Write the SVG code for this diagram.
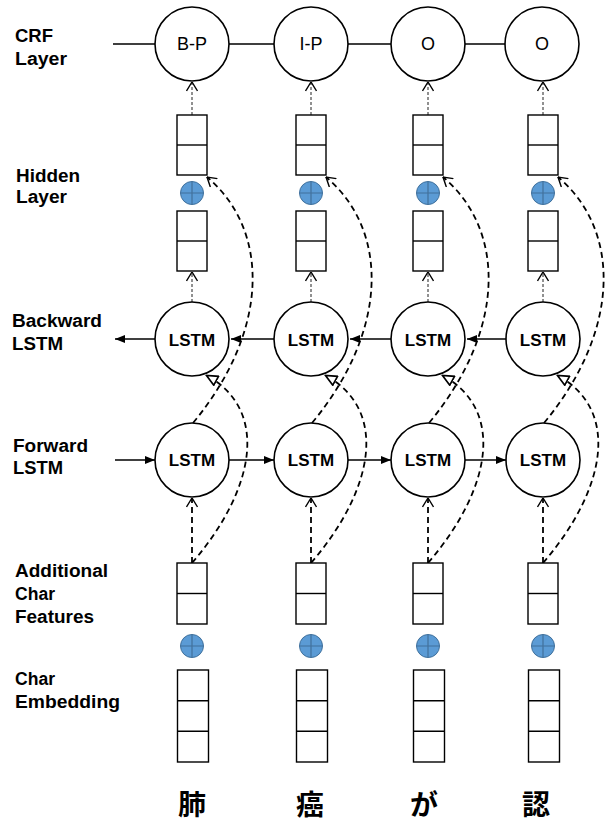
<svg xmlns="http://www.w3.org/2000/svg" width="611" height="823" viewBox="0 0 611 823">
<style>
.bg{fill:#ffffff}
.nd{fill:#ffffff;stroke:#000;stroke-width:1.6}
.bx{fill:#ffffff;stroke:#000;stroke-width:1.4}
.dv{stroke:#000;stroke-width:1.4;fill:none}
.pl{fill:#5B9BD5;stroke:#41719C;stroke-width:1}
.plx{stroke:#41719C;stroke-width:1.2;fill:none}
.lbl{font-family:"Liberation Sans",Arial,sans-serif;font-weight:bold;font-size:17.5px;fill:#000}
.lstm{font-family:"Liberation Sans",Arial,sans-serif;font-weight:bold;font-size:17px;fill:#000;text-anchor:middle}
.crf{font-family:"Liberation Sans",Arial,sans-serif;font-size:18px;fill:#000;text-anchor:middle}
.ch{font-family:"Noto Sans CJK JP","Noto Sans CJK SC",sans-serif;font-weight:bold;font-size:28px;fill:#000;text-anchor:middle}
.sl{stroke:#000;stroke-width:1.4;fill:none}
.dt{stroke:#222;stroke-width:1;stroke-dasharray:3 2;fill:none}
.dk{stroke:#000;stroke-width:1.8;stroke-dasharray:6 4;fill:none}
</style>
<defs>
<marker id="vh" viewBox="0 0 10 12" refX="9.5" refY="6" markerWidth="10" markerHeight="12" markerUnits="userSpaceOnUse" orient="auto">
<path d="M0.5,0.5 L9.5,6 L0.5,11.5" fill="none" stroke="#000" stroke-width="1.4" stroke-dasharray="none"/>
</marker>
<marker id="th" viewBox="0 0 13 12" refX="12" refY="6" markerWidth="13" markerHeight="12" markerUnits="userSpaceOnUse" orient="auto">
<path d="M1,1 L12,6 L1,11 Z" fill="#fff" stroke="#000" stroke-width="1.7" stroke-dasharray="none"/>
</marker>
<marker id="fh" viewBox="0 0 10 8" refX="10" refY="4" markerWidth="10" markerHeight="8" markerUnits="userSpaceOnUse" orient="auto">
<path d="M0,0 L10,4 L0,8 Z" fill="#000" stroke="none"/>
</marker>
</defs>
<rect class="bg" x="0" y="0" width="611" height="823"/>

<g id="labels">
<text class="lbl" x="15" y="42" textLength="38" lengthAdjust="spacingAndGlyphs">CRF</text>
<text class="lbl" x="15" y="65" textLength="52" lengthAdjust="spacingAndGlyphs">Layer</text>
<text class="lbl" x="16" y="181.5" textLength="64" lengthAdjust="spacingAndGlyphs">Hidden</text>
<text class="lbl" x="16" y="203" textLength="51" lengthAdjust="spacingAndGlyphs">Layer</text>
<text class="lbl" x="12" y="326.5" textLength="90" lengthAdjust="spacingAndGlyphs">Backward</text>
<text class="lbl" x="12" y="350" textLength="51" lengthAdjust="spacingAndGlyphs">LSTM</text>
<text class="lbl" x="13" y="451.5" textLength="75" lengthAdjust="spacingAndGlyphs">Forward</text>
<text class="lbl" x="13" y="473.5" textLength="50" lengthAdjust="spacingAndGlyphs">LSTM</text>
<text class="lbl" x="15" y="577" textLength="93" lengthAdjust="spacingAndGlyphs">Additional</text>
<text class="lbl" x="15" y="600" textLength="40" lengthAdjust="spacingAndGlyphs">Char</text>
<text class="lbl" x="15" y="623" textLength="79" lengthAdjust="spacingAndGlyphs">Features</text>
<text class="lbl" x="15" y="685" textLength="40" lengthAdjust="spacingAndGlyphs">Char</text>
<text class="lbl" x="15" y="708" textLength="105" lengthAdjust="spacingAndGlyphs">Embedding</text>
</g>

<g id="connectors">
<path class="sl" d="M113,44 H155 M229,44 H274 M348,44 H391 M465,44 H506"/>
<path class="sl" marker-end="url(#fh)" d="M115,460 H155"/>
<path class="sl" marker-end="url(#fh)" d="M229,460 H274"/>
<path class="sl" marker-end="url(#fh)" d="M348,460 H391"/>
<path class="sl" marker-end="url(#fh)" d="M465,460 H506"/>
<path class="sl" marker-end="url(#fh)" d="M155,339 H115"/>
<path class="sl" marker-end="url(#fh)" d="M274,339 H231"/>
<path class="sl" marker-end="url(#fh)" d="M391,339 H350"/>
<path class="sl" marker-end="url(#fh)" d="M506,339 H467"/>
<path class="dt" marker-end="url(#vh)" d="M192,115 V82"/>
<path class="dt" marker-end="url(#vh)" d="M311,115 V82"/>
<path class="dt" marker-end="url(#vh)" d="M428,115 V82"/>
<path class="dt" marker-end="url(#vh)" d="M543,115 V82"/>
<path class="dt" marker-end="url(#vh)" d="M192,302 V272"/>
<path class="dt" marker-end="url(#vh)" d="M311,302 V272"/>
<path class="dt" marker-end="url(#vh)" d="M428,302 V272"/>
<path class="dt" marker-end="url(#vh)" d="M543,302 V272"/>
<path class="dk" marker-end="url(#vh)" d="M192,563 V498"/>
<path class="dk" marker-end="url(#vh)" d="M311,563 V498"/>
<path class="dk" marker-end="url(#vh)" d="M428,563 V498"/>
<path class="dk" marker-end="url(#vh)" d="M543,563 V498"/>
<path class="dk" marker-end="url(#th)" d="M192,563 C255,490 270,410 206.5,375.5"/>
<path class="dk" marker-end="url(#th)" d="M311,563 C374,490 389,410 325.5,375.5"/>
<path class="dk" marker-end="url(#th)" d="M428,563 C491,490 506,410 442.5,375.5"/>
<path class="dk" marker-end="url(#th)" d="M543,563 C606,490 621,410 557.5,375.5"/>
<path class="dk" marker-end="url(#vh)" d="M193,423 C270,330 270,230 207,177"/>
<path class="dk" marker-end="url(#vh)" d="M312,423 C389,330 389,230 326,177"/>
<path class="dk" marker-end="url(#vh)" d="M429,423 C506,330 506,230 443,177"/>
<path class="dk" marker-end="url(#vh)" d="M544,423 C621,330 621,230 558,177"/>
</g>

<g id="crf1"><circle class="nd" cx="192" cy="44" r="37"/><text class="crf" x="192" y="50">B-P</text></g>
<g id="hid1a"><rect class="bx" x="177" y="115" width="30" height="60"/><path class="dv" d="M177,145 H207"/></g>
<g id="plusH1"><circle class="pl" cx="192" cy="193" r="11.5"/><path class="plx" d="M180.5,193 H203.5 M192,181.5 V204.5"/></g>
<g id="hid1b"><rect class="bx" x="177" y="211" width="30" height="60"/><path class="dv" d="M177,241 H207"/></g>
<g id="bw1"><circle class="nd" cx="192" cy="339" r="37"/><text class="lstm" x="192" y="345.5">LSTM</text></g>
<g id="fw1"><circle class="nd" cx="192" cy="460" r="37"/><text class="lstm" x="192" y="466">LSTM</text></g>
<g id="feat1"><rect class="bx" x="177" y="563" width="30" height="61"/><path class="dv" d="M177,593.5 H207"/></g>
<g id="plusF1"><circle class="pl" cx="192" cy="646" r="11.5"/><path class="plx" d="M180.5,646 H203.5 M192,634.5 V657.5"/></g>
<g id="emb1"><rect class="bx" x="177.5" y="670" width="31" height="92"/><path class="dv" d="M177.5,700.7 H208.5 M177.5,731.3 H208.5"/></g>
<g id="char1"><text class="ch" x="192" y="815">肺</text></g>

<g id="crf2"><circle class="nd" cx="311" cy="44" r="37"/><text class="crf" x="311" y="50">I-P</text></g>
<g id="hid2a"><rect class="bx" x="296" y="115" width="30" height="60"/><path class="dv" d="M296,145 H326"/></g>
<g id="plusH2"><circle class="pl" cx="311" cy="193" r="11.5"/><path class="plx" d="M299.5,193 H322.5 M311,181.5 V204.5"/></g>
<g id="hid2b"><rect class="bx" x="296" y="211" width="30" height="60"/><path class="dv" d="M296,241 H326"/></g>
<g id="bw2"><circle class="nd" cx="311" cy="339" r="37"/><text class="lstm" x="311" y="345.5">LSTM</text></g>
<g id="fw2"><circle class="nd" cx="311" cy="460" r="37"/><text class="lstm" x="311" y="466">LSTM</text></g>
<g id="feat2"><rect class="bx" x="296" y="563" width="30" height="61"/><path class="dv" d="M296,593.5 H326"/></g>
<g id="plusF2"><circle class="pl" cx="311" cy="646" r="11.5"/><path class="plx" d="M299.5,646 H322.5 M311,634.5 V657.5"/></g>
<g id="emb2"><rect class="bx" x="296.5" y="670" width="31" height="92"/><path class="dv" d="M296.5,700.7 H327.5 M296.5,731.3 H327.5"/></g>
<g id="char2"><text class="ch" x="310" y="815">癌</text></g>

<g id="crf3"><circle class="nd" cx="428" cy="44" r="37"/><text class="crf" x="428" y="50">O</text></g>
<g id="hid3a"><rect class="bx" x="413" y="115" width="30" height="60"/><path class="dv" d="M413,145 H443"/></g>
<g id="plusH3"><circle class="pl" cx="428" cy="193" r="11.5"/><path class="plx" d="M416.5,193 H439.5 M428,181.5 V204.5"/></g>
<g id="hid3b"><rect class="bx" x="413" y="211" width="30" height="60"/><path class="dv" d="M413,241 H443"/></g>
<g id="bw3"><circle class="nd" cx="428" cy="339" r="37"/><text class="lstm" x="428" y="345.5">LSTM</text></g>
<g id="fw3"><circle class="nd" cx="428" cy="460" r="37"/><text class="lstm" x="428" y="466">LSTM</text></g>
<g id="feat3"><rect class="bx" x="413" y="563" width="30" height="61"/><path class="dv" d="M413,593.5 H443"/></g>
<g id="plusF3"><circle class="pl" cx="428" cy="646" r="11.5"/><path class="plx" d="M416.5,646 H439.5 M428,634.5 V657.5"/></g>
<g id="emb3"><rect class="bx" x="413.5" y="670" width="31" height="92"/><path class="dv" d="M413.5,700.7 H444.5 M413.5,731.3 H444.5"/></g>
<g id="char3"><text class="ch" x="424" y="815">が</text></g>

<g id="crf4"><circle class="nd" cx="542" cy="44" r="37"/><text class="crf" x="542" y="50">O</text></g>
<g id="hid4a"><rect class="bx" x="528" y="115" width="30" height="60"/><path class="dv" d="M528,145 H558"/></g>
<g id="plusH4"><circle class="pl" cx="543" cy="193" r="11.5"/><path class="plx" d="M531.5,193 H554.5 M543,181.5 V204.5"/></g>
<g id="hid4b"><rect class="bx" x="528" y="211" width="30" height="60"/><path class="dv" d="M528,241 H558"/></g>
<g id="bw4"><circle class="nd" cx="543" cy="339" r="37"/><text class="lstm" x="543" y="345.5">LSTM</text></g>
<g id="fw4"><circle class="nd" cx="543" cy="460" r="37"/><text class="lstm" x="543" y="466">LSTM</text></g>
<g id="feat4"><rect class="bx" x="528" y="563" width="30" height="61"/><path class="dv" d="M528,593.5 H558"/></g>
<g id="plusF4"><circle class="pl" cx="543" cy="646" r="11.5"/><path class="plx" d="M531.5,646 H554.5 M543,634.5 V657.5"/></g>
<g id="emb4"><rect class="bx" x="528.5" y="670" width="31" height="92"/><path class="dv" d="M528.5,700.7 H559.5 M528.5,731.3 H559.5"/></g>
<g id="char4"><text class="ch" x="536" y="815">認</text></g>
</svg>
